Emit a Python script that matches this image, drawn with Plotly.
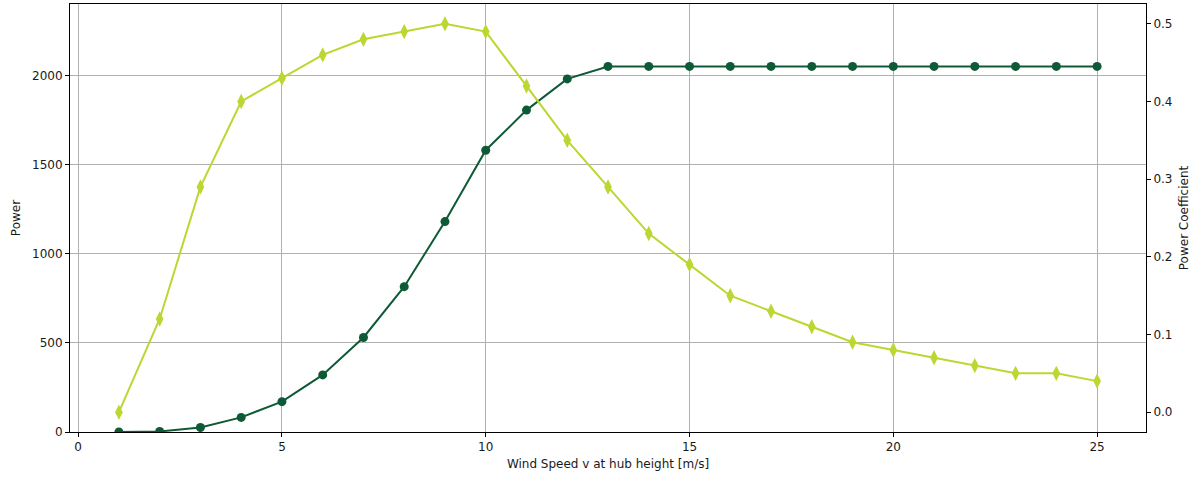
import plotly.graph_objects as go

wind_speed = list(range(1, 26))
power = [0, 3, 25, 82, 170, 320, 530, 815, 1180, 1580, 1805, 1980, 2050,
         2050, 2050, 2050, 2050, 2050, 2050, 2050, 2050, 2050, 2050, 2050, 2050]
power_coeff = [0.0, 0.12, 0.29, 0.40, 0.43, 0.46, 0.48, 0.49, 0.50, 0.49, 0.42, 0.35, 0.29,
               0.23, 0.19, 0.15, 0.13, 0.11, 0.09, 0.08, 0.07, 0.06, 0.05, 0.05, 0.04]

dark = "#0f5a36"
light = "#bdd631"
font = dict(family="DejaVu Sans", size=12, color="#1a1a1a")

fig = go.Figure()
fig.add_trace(go.Scatter(x=wind_speed, y=power, mode="lines+markers", name="Power",
                         line=dict(color=dark, width=2),
                         marker=dict(symbol="circle", size=9, color=dark)))
fig.add_trace(go.Scatter(x=wind_speed, y=power_coeff, mode="lines+markers", name="Power Coefficient",
                         yaxis="y2",
                         line=dict(color=light, width=2),
                         marker=dict(symbol="diamond-tall", size=11, color=light)))

axis_common = dict(showline=True, linecolor="black", linewidth=1, ticks="outside",
                   ticklen=4, tickcolor="black", tickfont=font, zeroline=False,
                   automargin=False)

fig.update_layout(
    width=1197, height=477,
    margin=dict(l=70, r=51, t=4, b=45),
    paper_bgcolor="white", plot_bgcolor="white",
    showlegend=False,
    font=font,
    xaxis=dict(range=[-0.2, 26.2], tickvals=[0, 5, 10, 15, 20, 25],
               showgrid=True, gridcolor="#b0b0b0", gridwidth=1, mirror=True,
               title=dict(text="Wind Speed v at hub height [m/s]", font=font, standoff=6),
               **axis_common),
    yaxis=dict(range=[0, 2400], tickvals=[0, 500, 1000, 1500, 2000],
               showgrid=True, gridcolor="#b0b0b0", gridwidth=1,
               title=dict(text="Power", font=font, standoff=8),
               **axis_common),
    yaxis2=dict(range=[-0.0255, 0.5255], tickvals=[0.0, 0.1, 0.2, 0.3, 0.4, 0.5],
                ticktext=["0.0", "0.1", "0.2", "0.3", "0.4", "0.5"],
                overlaying="y", side="right", showgrid=False,
                title=dict(text="Power Coefficient", font=font, standoff=8),
                **axis_common),
)

fig.write_html("out.html",
               config={"displayModeBar": False},
               post_script="document.body.style.margin='0';document.body.style.padding='0';")
